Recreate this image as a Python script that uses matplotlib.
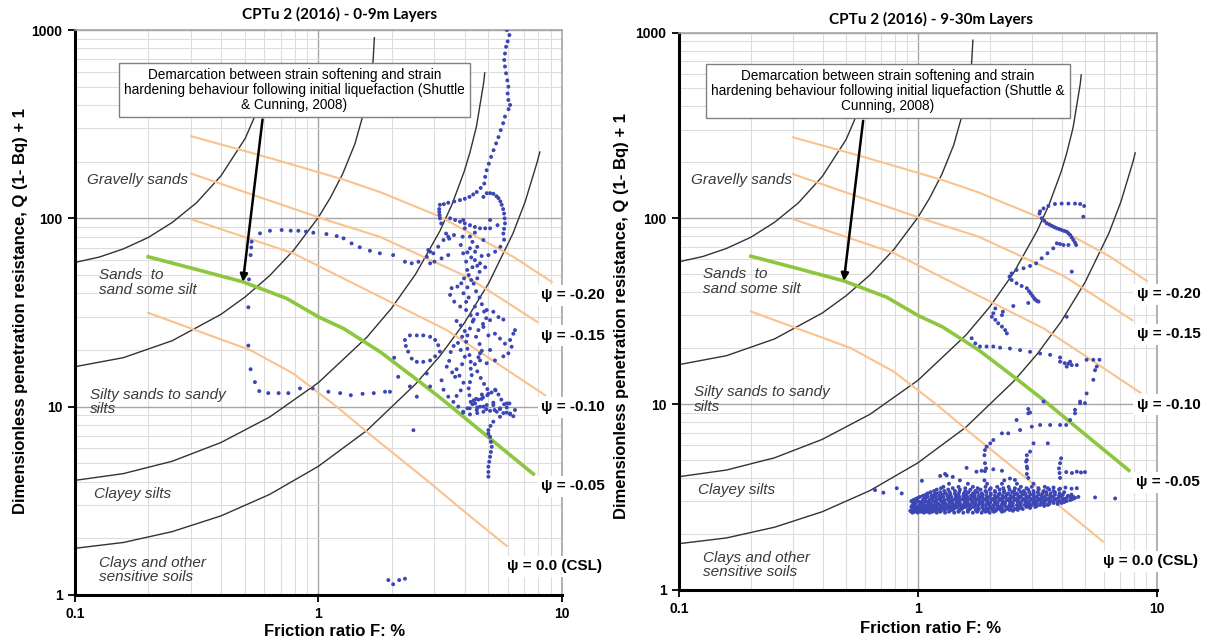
import numpy as np
import matplotlib
matplotlib.use('Agg')
import matplotlib.pyplot as plt
from matplotlib.ticker import LogLocator, NullFormatter

plt.rcParams['font.family'] = ['Liberation Sans', 'DejaVu Sans']

# ---------------- chart template ----------------
x_ticks = [0.1, 1, 10]
x_tick_labels = ['0.1', '1', '10']
y_ticks = [1, 10, 100, 1000]
y_tick_labels = ['1', '10', '100', '1000']

# soil behaviour boundaries (black)
bnd_a_F = [0.1, 0.126, 0.158, 0.2, 0.251, 0.316, 0.398, 0.501, 0.562, 0.6]
bnd_a_Q = [58.3, 62.3, 68.8, 79.1, 95.1, 121, 168, 266, 375, 493]
bnd_b_F = [0.1, 0.158, 0.251, 0.398, 0.501, 0.631, 0.794, 1.0, 1.122, 1.259, 1.413, 1.585, 1.66, 1.68, 1.70]
bnd_b_Q = [16.3, 18.2, 22.4, 30.9, 38.3, 49.6, 68.0, 101, 129, 172, 248, 419, 598, 692, 910]
bnd_c_F = [0.1, 0.158, 0.251, 0.398, 0.631, 1.0, 1.585, 1.995, 2.512, 3.162, 3.548, 3.981, 4.2, 4.467, 4.786, 4.83]
bnd_c_Q = [4.06, 4.41, 5.13, 6.45, 8.81, 13.4, 23.4, 33.2, 50.6, 85.8, 119, 178, 224, 308, 529, 592]
bnd_d_F = [0.1, 0.158, 0.251, 0.398, 0.631, 1.0, 1.585, 2.512, 3.162, 3.981, 5.012, 6.31, 7.079, 7.943, 8.13]
bnd_d_Q = [1.77, 1.90, 2.17, 2.63, 3.42, 4.82, 7.48, 13.2, 18.6, 27.8, 45.2, 83.2, 122.5, 200, 225]

# state parameter contours (orange) and demarcation (green, psi = -0.05)
psi_020_F = [0.30, 0.55, 0.85, 1.28, 1.79, 3.17, 4.62, 6.33, 9.1]
psi_020_Q = [273, 220, 187, 160, 138, 102, 78, 62.5, 46]
psi_015_F = [0.30, 0.55, 1.08, 1.79, 2.8, 4.07, 5.6, 7.9]
psi_015_Q = [173, 132, 98, 79.8, 61.2, 49, 37.7, 28.3]
psi_010_F = [0.30, 0.5, 0.789, 1.25, 1.91, 3.37, 5.5, 8.55]
psi_010_Q = [99, 79.4, 65.2, 48.4, 36.8, 25.5, 16.8, 11.5]
psi_000_F = [0.20, 0.524, 0.789, 1.19, 1.68, 2.79, 4.07, 5.95]
psi_000_Q = [31.5, 20.0, 15.0, 10.0, 6.9, 4.07, 2.71, 1.82]
demarc_F = [0.2, 0.32, 0.49, 0.74, 1.0, 1.27, 1.8, 2.62, 3.27, 4.19, 5.5, 7.65]
demarc_Q = [62.5, 53.3, 46, 37.6, 30, 26, 19.5, 13.5, 10.8, 8.3, 6.22, 4.39]

psi_labels = ['\u03c8 = -0.20', '\u03c8 = -0.15', '\u03c8 = -0.10', '\u03c8 = -0.05', '\u03c8 = 0.0 (CSL)']
psi_label_F = [8.25, 8.25, 8.25, 8.2, 5.98]
psi_label_Q = [39, 23.8, 9.9, 3.78, 1.42]

zone_labels = ['Gravelly sands', 'Sands  to\nsand some silt', 'Silty sands to sandy\nsilts',
               'Clayey silts', 'Clays and other\nsensitive soils']
zone_F = [0.112, 0.126, 0.115, 0.12, 0.126]
zone_Q = [160, 45.6, 10.6, 3.44, 1.36]

# ---------------- CPTu data, 0-9 m ----------------
top_trail = [(5.95, 1000), (6.10, 940), (6.0, 870), (5.91, 815), (5.85, 750), (5.81, 693), (5.85, 640),
             (5.91, 589), (5.98, 540), (6.04, 500), (6.0, 460), (6.04, 425), (6.14, 400), (6.05, 380),
             (5.85, 347), (5.75, 320), (5.62, 294), (5.5, 270), (5.38, 250), (5.25, 230), (5.13, 212),
             (5.02, 195), (4.92, 180), (4.85, 166), (4.81, 153), (4.65, 145), (4.48, 138), (4.33, 134),
             (4.18, 130), (4.0, 127), (3.82, 125), (3.62, 123), (3.42, 121), (3.28, 119), (3.16, 118),
             (3.14, 112), (3.14, 108), (3.15, 104), (3.16, 100), (3.2, 94), (3.35, 83), (3.45, 78)]
flat_95 = [(3.48, 100), (3.65, 98), (3.82, 96), (4.0, 94), (4.2, 92), (4.4, 90), (4.62, 88.5),
           (4.85, 88.5), (5.08, 88.5), (5.08, 98), (5.45, 92)]
hook = [(4.77, 130), (4.92, 136), (5.08, 136), (5.24, 135), (5.4, 131), (5.5, 128), (5.6, 123),
        (5.67, 118), (5.75, 112), (5.8, 106), (5.83, 100), (5.85, 94), (5.8, 88), (5.76, 83),
        (5.8, 77), (5.6, 70.6), (5.33, 66.5), (5.0, 63.8), (4.69, 63.1), (4.41, 66.5), (4.2, 69.3)]
mid_trail = [(0.53, 70), (0.532, 75.1), (0.576, 83.2), (0.633, 85.9), (0.707, 86.7), (0.77, 86),
             (0.828, 85.9), (0.89, 85), (0.954, 83.9), (1.08, 82.5), (1.19, 80.5), (1.27, 78.3),
             (1.37, 73.6), (1.48, 70.2), (1.63, 67.3), (1.79, 65.2), (2.03, 63.8), (2.27, 58.8),
             (2.42, 57.7), (2.58, 58.8), (2.79, 62.5), (2.88, 66.5)]
low_trail = [(0.527, 63.8), (0.519, 47.4), (0.516, 33.7), (0.516, 21.1), (0.527, 15.8), (0.549, 13.5),
             (0.572, 12.1), (0.623, 11.8), (0.687, 11.8), (0.753, 11.8), (0.841, 12.5), (0.948, 12.5),
             (1.10, 12.0), (1.23, 11.8), (1.36, 11.5), (1.52, 11.7), (1.69, 11.8), (1.88, 12.0)]
main_track = [(3.94, 98), (4.0, 88.5), (3.92, 79.9), (3.85, 72.2), (3.94, 65.2), (4.05, 58.9),
              (4.09, 53.2), (3.97, 48.0), (3.87, 45.2), (3.73, 43.4), (3.53, 42.6), (3.48, 39.2),
              (3.62, 36.1), (3.83, 34.0), (4.05, 32.6), (4.23, 30.6), (4.31, 28.3), (4.2, 26.0),
              (4.1, 23.9), (4.05, 22.1), (4.1, 20.3), (4.18, 18.8), (4.23, 17.3), (4.23, 15.9),
              (4.27, 14.7), (4.2, 13.5), (4.15, 12.5), (4.18, 11.5), (4.23, 10.6), (4.1, 9.8), (3.94, 9.3)]
strand_b = [(4.4, 60), (4.5, 56), (4.6, 52), (4.5, 48), (4.35, 45), (4.45, 41), (4.6, 38), (4.7, 35),
            (4.8, 32), (4.9, 29.5), (4.75, 27.5), (4.55, 25.5), (4.45, 23.5), (4.6, 21.5), (4.7, 19.8),
            (4.55, 18.3), (4.4, 16.8), (4.5, 15.4), (4.65, 14.2), (4.8, 13.2), (4.95, 12.4), (4.7, 11.6),
            (4.45, 11.0), (4.3, 10.3)]
strand_c = [(3.7, 28.5), (3.85, 27), (4.0, 25.2), (3.9, 23.5), (3.75, 21.8), (3.85, 20), (4.0, 18.4),
            (3.9, 16.8), (3.7, 15.8), (3.8, 14.6), (3.95, 13.4), (3.85, 12.2), (3.7, 11.4), (3.6, 21),
            (3.5, 19.5), (3.45, 17.5), (3.55, 15.2), (3.95, 40), (4.15, 38), (4.05, 36), (4.4, 34),
            (4.5, 31), (4.35, 29), (4.1, 43), (4.25, 47), (4.15, 50), (4.3, 55), (4.25, 62), (4.1, 66),
            (4.3, 75), (4.2, 80), (4.4, 84)]
strand_d = [(4.35, 10.8), (4.55, 10.9), (4.75, 11.2), (4.95, 11.5), (5.15, 11.9), (5.35, 12.2),
            (5.5, 11.6), (5.65, 10.9), (5.8, 10.3), (5.95, 9.9), (4.5, 9.9), (4.9, 9.7), (5.3, 9.6)]
upper_left = [(2.83, 67.9), (2.97, 65.2), (3.11, 70.7), (3.27, 76.7), (3.42, 79.9), (3.61, 81.5),
              (2.88, 57.7), (3.0, 58.9), (3.21, 61.3), (3.42, 63.8), (4.62, 57.7), (4.85, 55.0),
              (4.5, 70.6), (4.77, 76.7)]
right_scatter = [(4.92, 32.6), (5.24, 31.9), (5.5, 29.9), (5.76, 29.0), (5.08, 28.8), (4.77, 26.5),
                 (5.0, 23.9), (5.32, 24.4), (5.58, 23.0), (5.85, 21.6), (6.14, 22.6), (6.33, 24.4),
                 (6.43, 25.5), (6.23, 20.8), (6.04, 19.2), (5.76, 18.5), (5.32, 17.6), (4.92, 17.0),
                 (5.08, 20.0), (4.62, 19.2), (4.62, 17.6)]
left_loop = [(2.27, 22.6), (2.38, 23.9), (2.54, 23.9), (2.70, 23.9), (2.88, 23.5), (3.02, 22.6),
             (3.11, 21.2), (3.16, 19.6), (3.02, 18.5), (2.88, 17.6), (2.70, 17.3), (2.54, 17.3),
             (2.42, 18.0), (2.34, 19.6), (2.29, 21.0), (2.05, 18.2)]
lower_scatter = [(1.97, 12.0), (2.13, 14.4), (2.38, 12.8), (2.54, 11.3), (2.79, 15.0), (2.88, 12.8),
                 (3.21, 13.8), (3.27, 12.3), (3.42, 11.3), (3.59, 10.6), (3.76, 10.0), (3.37, 16.3),
                 (3.65, 14.4)]
lower_bundle = [(5.33, 12.3), (5.0, 11.7), (4.69, 11.0), (4.41, 10.4), (4.62, 10.0), (4.92, 10.2),
                (5.24, 10.5), (5.58, 9.7), (5.94, 9.3), (6.33, 8.9), (6.14, 9.1), (5.76, 9.25),
                (5.41, 9.4), (5.08, 9.5), (4.77, 9.4), (4.5, 9.25), (4.2, 9.1), (3.94, 9.4), (4.19, 9.8),
                (4.48, 9.6), (4.77, 10.0), (5.24, 10.2), (5.58, 9.8), (5.95, 10.4), (6.1, 10.4)]
tail = [(5.0, 4.25), (5.0, 4.5), (5.0, 4.8), (5.04, 5.1), (5.08, 5.42), (5.12, 5.75), (5.16, 6.12),
        (5.12, 6.5), (5.08, 6.92), (5.0, 7.2), (5.0, 7.51), (5.1, 7.9), (5.24, 8.32), (5.58, 8.84),
        (6.14, 9.2), (6.43, 9.6)]
strays = [(2.46, 7.5), (1.94, 1.2), (2.03, 1.14), (2.15, 1.2), (2.27, 1.22)]

# ---------------- CPTu data, 9-30 m ----------------
arc = [(3.25, 109), (3.36, 113), (3.52, 116.5), (3.75, 119.4), (4.0, 120), (4.27, 120), (4.55, 120),
       (4.78, 119.4), (4.97, 116.5), (4.93, 102)]
descent = [(3.23, 106), (3.30, 100), (3.38, 97), (3.46, 94), (3.55, 92.5), (3.64, 90.9), (3.73, 89.5),
           (3.82, 88.3), (3.91, 87.4), (4.0, 86.5), (4.1, 85.5), (4.20, 84.7), (4.27, 83), (4.34, 81.3),
           (4.41, 78.8), (4.48, 76.4), (4.55, 74), (4.6, 71.8), (4.07, 71.8), (4.27, 71.8), (3.82, 73.3)]
diagonal = [(3.94, 72.7), (3.69, 68.9), (3.49, 64.8), (3.30, 60.9), (3.13, 57.2), (2.95, 55.4),
            (2.77, 53.8), (2.59, 52.7), (2.47, 50.5), (2.42, 48.5), (2.47, 46.5), (2.59, 44.7),
            (2.72, 43.2), (2.86, 42.0), (2.92, 40.5), (2.97, 39.4), (3.02, 38.2), (3.07, 37.1),
            (3.1, 36.5), (3.15, 35.9), (3.20, 35.6), (4.41, 51.6), (2.51, 33.7), (2.9, 35), (4.2, 29.5)]
step = [(2.11, 32.7), (2.07, 30.8), (2.04, 29.5), (2.11, 28.4), (2.17, 27.2), (2.25, 26.1), (2.32, 25.0),
        (2.36, 24.0), (2.27, 31.4), (2.25, 30.1)]
long_trail = [(1.68, 22.6), (1.74, 21.2), (1.82, 20.4), (1.94, 20.4), (2.07, 20.4), (2.21, 20.1),
              (2.43, 19.9), (2.68, 19.5), (2.95, 19.1), (3.25, 18.7), (3.58, 18.4), (3.94, 17.8),
              (4.34, 16.9), (4.63, 16.2), (5.09, 17.3), (5.43, 17.3), (5.76, 17.3), (5.61, 15.9),
              (5.52, 15.2), (5.43, 13.5), (5.09, 11.4), (4.78, 10.3), (4.55, 9.3), (3.94, 16.9),
              (4.12, 16.6), (4.27, 16.5), (4.41, 16.2), (4.2, 15.9)]
upper_sparse = [(3.36, 10.3), (4.78, 10.1), (5.01, 10.1), (4.55, 8.91), (4.34, 8.2), (4.18, 7.71),
                (3.94, 7.71), (3.58, 7.71), (3.25, 7.71), (3.0, 7.55), (2.90, 8.91), (2.59, 8.2),
                (2.68, 7.24), (2.39, 6.95), (2.25, 6.95), (2.07, 6.40), (2.01, 6.14), (1.94, 5.89),
                (3.05, 6.14), (2.95, 5.54), (2.86, 4.99), (2.86, 4.60), (3.50, 6.14), (2.9, 9.4), (2.95, 9.0)]
spikes = [(1.91, 5.65), (1.90, 5.3), (1.91, 4.8), (1.93, 4.5), (1.91, 4.35), (2.86, 5.3), (2.84, 4.9),
          (2.87, 4.5), (2.86, 4.2), (2.9, 4.0), (3.98, 5.1), (3.94, 4.8), (3.90, 4.5), (3.92, 4.25),
          (3.94, 4.0), (4.18, 4.3), (4.42, 4.25), (4.63, 4.32), (4.82, 4.28), (5.01, 4.3)]
edge_points = [(5.52, 3.14), (6.70, 3.1), (4.5, 3.15), (0.662, 3.44), (0.717, 3.33), (0.816, 3.52),
               (0.856, 3.30), (1.04, 3.86), (0.958, 3.04), (1.60, 4.53), (1.30, 4.2), (1.24, 4.1),
               (1.32, 4.12), (1.40, 4.05), (1.76, 4.32), (1.85, 4.37), (2.07, 4.45), (2.25, 4.37),
               (2.43, 3.97), (2.55, 3.9), (3.5, 3.52), (3.7, 3.55), (3.94, 3.5), (4.15, 3.55),
               (4.4, 3.5), (4.63, 3.52)]

# dense band of points around Q = 2.6 - 3.9, one row per Q level
band_Q = [2.60, 2.63, 2.66, 2.69, 2.72, 2.755, 2.79, 2.825, 2.86, 2.895, 2.93, 2.965, 3.00, 3.04,
          3.08, 3.12, 3.16, 3.205, 3.25, 3.30, 3.35, 3.40, 3.46, 3.52, 3.58, 3.72, 3.88]
band_F = [
    [0.95, 1.0, 1.06, 1.12, 1.2, 1.3, 1.42, 1.55, 1.7, 1.85, 2.0],
    [0.94, 0.97, 1.03, 1.09, 1.15, 1.24, 1.35, 1.48, 1.62, 1.77, 1.92, 2.08, 2.25],
    [0.93, 0.98, 1.04, 1.1, 1.17, 1.25, 1.36, 1.48, 1.62, 1.78, 1.95, 2.12, 2.3, 2.5],
    [0.95, 1.01, 1.07, 1.13, 1.2, 1.29, 1.39, 1.5, 1.62, 1.75, 1.88, 2.05, 2.22, 2.42, 2.62],
    [0.96, 1.02, 1.08, 1.15, 1.22, 1.31, 1.41, 1.52, 1.65, 1.8, 1.98, 2.15, 2.35, 2.55, 2.75],
    [0.98, 1.04, 1.1, 1.17, 1.25, 1.34, 1.43, 1.54, 1.66, 1.79, 1.93, 2.08, 2.25, 2.45, 2.68, 2.95],
    [0.94, 1.0, 1.06, 1.13, 1.2, 1.28, 1.37, 1.47, 1.58, 1.71, 1.86, 2.02, 2.2, 2.4, 2.62, 2.85, 3.1],
    [0.96, 1.03, 1.09, 1.16, 1.24, 1.32, 1.41, 1.51, 1.62, 1.74, 1.87, 2.0, 2.15, 2.32, 2.5, 2.7,
     2.92, 3.15, 3.38],
    [0.95, 1.02, 1.1, 1.18, 1.26, 1.34, 1.44, 1.55, 1.66, 1.79, 1.93, 2.08, 2.24, 2.42, 2.6, 2.8, 3.0,
     3.25, 3.5],
    [0.98, 1.06, 1.14, 1.22, 1.3, 1.39, 1.49, 1.6, 1.72, 1.85, 1.99, 2.14, 2.3, 2.47, 2.66, 2.86,
     3.08, 3.3, 3.55, 3.85],
    [0.97, 1.04, 1.12, 1.2, 1.3, 1.4, 1.5, 1.62, 1.74, 1.87, 2.01, 2.16, 2.32, 2.5, 2.7, 2.92, 3.15,
     3.4, 3.7, 4.0],
    [0.96, 1.02, 1.1, 1.18, 1.27, 1.36, 1.46, 1.57, 1.69, 1.81, 1.95, 2.1, 2.26, 2.43, 2.62, 2.82,
     3.04, 3.28, 3.55, 3.85, 4.1],
    [0.94, 1.0, 1.08, 1.16, 1.25, 1.35, 1.45, 1.57, 1.69, 1.82, 1.96, 2.11, 2.27, 2.45, 2.64, 2.85,
     3.08, 3.33, 3.6, 3.9, 4.2],
    [0.99, 1.05, 1.12, 1.2, 1.29, 1.39, 1.5, 1.62, 1.75, 1.88, 2.03, 2.19, 2.36, 2.54, 2.74, 2.95,
     3.18, 3.43, 3.72, 4.02, 4.35],
    [0.98, 1.06, 1.14, 1.23, 1.33, 1.43, 1.54, 1.66, 1.78, 1.92, 2.06, 2.22, 2.4, 2.58, 2.78, 3.0,
     3.24, 3.5, 3.78, 4.1, 4.45],
    [1.0, 1.08, 1.16, 1.25, 1.35, 1.46, 1.58, 1.7, 1.83, 1.97, 2.12, 2.28, 2.46, 2.65, 2.86, 3.08,
     3.32, 3.58, 3.88, 4.2, 4.55],
    [1.02, 1.1, 1.19, 1.28, 1.38, 1.49, 1.61, 1.73, 1.86, 2.0, 2.16, 2.33, 2.51, 2.7, 2.92, 3.15, 3.4,
     3.68, 4.0, 4.35, 4.7],
    [1.05, 1.14, 1.23, 1.33, 1.44, 1.55, 1.67, 1.8, 1.94, 2.1, 2.26, 2.44, 2.63, 2.84, 3.06, 3.3,
     3.58, 3.9, 4.25],
    [1.08, 1.17, 1.27, 1.37, 1.48, 1.6, 1.73, 1.87, 2.02, 2.18, 2.35, 2.54, 2.74, 2.96, 3.2, 3.46,
     3.75, 4.05, 4.4],
    [1.1, 1.2, 1.31, 1.43, 1.56, 1.7, 1.85, 2.02, 2.2, 2.39, 2.6, 2.82, 3.06, 3.32, 3.6, 3.92],
    [1.13, 1.24, 1.36, 1.49, 1.63, 1.78, 1.94, 2.11, 2.29, 2.48, 2.7, 2.93, 3.18, 3.45, 3.75, 4.1],
    [1.17, 1.29, 1.43, 1.58, 1.74, 1.92, 2.1, 2.3, 2.53, 2.78, 3.05, 3.37, 3.7],
    [1.2, 1.34, 1.5, 1.66, 1.83, 2.0, 2.2, 2.42, 2.65, 2.9, 3.2, 3.55, 3.9],
    [1.25, 1.4, 1.58, 1.78, 2.02, 2.28, 2.55, 2.85, 3.2],
    [1.28, 1.48, 1.7, 1.92, 2.15, 2.4, 2.7, 3.0, 3.4],
    [1.35, 1.62, 1.95, 2.25, 2.6, 3.05],
    [1.5, 1.9, 2.3],
]

shallow = (top_trail + flat_95 + hook + mid_trail + low_trail + main_track + strand_b + strand_c +
           strand_d + upper_left + right_scatter + left_loop + lower_scatter + lower_bundle + tail + strays)
band = [(f, q) for q, row in zip(band_Q, band_F) for f in row]
deep = arc + descent + diagonal + step + long_trail + upper_sparse + spikes + edge_points + band

box_text_left = ('Demarcation between strain softening and strain\n'
                 'hardening behaviour following initial liquefaction (Shuttle\n'
                 '& Cunning, 2008)')
box_text_right = ('Demarcation between strain softening and strain\n'
                  'hardening behaviour following initial liquefaction (Shuttle &\n'
                  'Cunning, 2008)')


def draw_panel(ax, points, box_text, box_xy):
    ax.set_xscale('log')
    ax.set_yscale('log')
    ax.set_xlim(0.1, 10)
    ax.set_ylim(1, 1000)

    ax.set_xticks(x_ticks)
    ax.set_xticklabels(x_tick_labels, fontsize=10, fontweight='bold')
    ax.set_yticks(y_ticks)
    ax.set_yticklabels(y_tick_labels, fontsize=10, fontweight='bold')
    for axis in (ax.xaxis, ax.yaxis):
        axis.set_minor_locator(LogLocator(base=10, subs=np.arange(2, 10)))
        axis.set_minor_formatter(NullFormatter())
    ax.tick_params(which='minor', length=0)
    ax.tick_params(which='major', length=5, width=1.3, direction='out', pad=4)

    ax.grid(which='major', color='#a6a6a6', lw=1.0)
    ax.grid(which='minor', color='#dddddd', lw=0.8)
    ax.set_axisbelow(True)
    for side in ('left', 'bottom'):
        ax.spines[side].set_color('black')
        ax.spines[side].set_linewidth(2.2)
    for side in ('top', 'right'):
        ax.spines[side].set_color('#a6a6a6')
        ax.spines[side].set_linewidth(1.2)

    for fx, qy in [(bnd_a_F, bnd_a_Q), (bnd_b_F, bnd_b_Q), (bnd_c_F, bnd_c_Q), (bnd_d_F, bnd_d_Q)]:
        ax.plot(fx, qy, color='#333333', lw=1.0, zorder=2)
    for fx, qy in [(psi_020_F, psi_020_Q), (psi_015_F, psi_015_Q), (psi_010_F, psi_010_Q),
                   (psi_000_F, psi_000_Q)]:
        ax.plot(fx, qy, color='#f9c28e', lw=1.5, zorder=2)
    ax.plot(demarc_F, demarc_Q, color='#8dc63f', lw=2.6, zorder=2)

    f, q = zip(*points)
    ax.scatter(f, q, s=8, color='#3c46b4', edgecolors='none', zorder=3)

    for txt, fx, qy in zip(zone_labels, zone_F, zone_Q):
        ax.text(fx, qy, txt, fontsize=11, style='italic', color='#3a3a3a',
                ha='left', va='center', linespacing=1.05, zorder=4)
    for txt, fx, qy in zip(psi_labels, psi_label_F, psi_label_Q):
        ax.text(fx, qy, txt, fontsize=11, fontweight='bold', ha='left', va='center', clip_on=False,
                bbox=dict(fc='white', ec='none', pad=2.5), zorder=6)

    ax.annotate('', xy=(0.49, 46), xytext=(0.59, 335),
                arrowprops=dict(arrowstyle='-|>', color='black', lw=1.8, mutation_scale=11,
                                shrinkA=0, shrinkB=0), zorder=4)
    ax.text(box_xy[0], box_xy[1], box_text, transform=ax.transAxes, fontsize=9.8,
            ha='center', va='center', linespacing=1.1, zorder=7,
            bbox=dict(boxstyle='square,pad=0.35', fc='white', ec='#808080', lw=1.0))


fig = plt.figure(figsize=(12.05, 6.44), dpi=100)
ax1 = fig.add_axes([0.0622, 0.0761, 0.4039, 0.8773])
ax2 = fig.add_axes([0.5635, 0.0843, 0.3964, 0.8651])

draw_panel(ax1, shallow, box_text_left, (0.451, 0.894))
draw_panel(ax2, deep, box_text_right, (0.4375, 0.895))

title_font = ['Lato', 'DejaVu Sans']
fig.text(0.282, 0.978, 'CPTu 2 (2016) - 0-9m Layers', ha='center', va='center',
         fontsize=11, fontweight='bold', family=title_font)
fig.text(0.7726, 0.969, 'CPTu 2 (2016) - 9-30m Layers', ha='center', va='center',
         fontsize=11, fontweight='bold', family=title_font)

ylab = 'Dimensionless penetration resistance, Q (1- Bq) + 1'
fig.text(0.0174, 0.517, ylab, rotation=90, ha='center', va='center', fontsize=12, fontweight='bold')
fig.text(0.5154, 0.509, ylab, rotation=90, ha='center', va='center', fontsize=12, fontweight='bold')
fig.text(0.278, 0.019, 'Friction ratio F: %', ha='center', va='center', fontsize=12, fontweight='bold')
fig.text(0.7723, 0.0244, 'Friction ratio F: %', ha='center', va='center', fontsize=12, fontweight='bold')

fig.savefig('out.png', dpi=100)
